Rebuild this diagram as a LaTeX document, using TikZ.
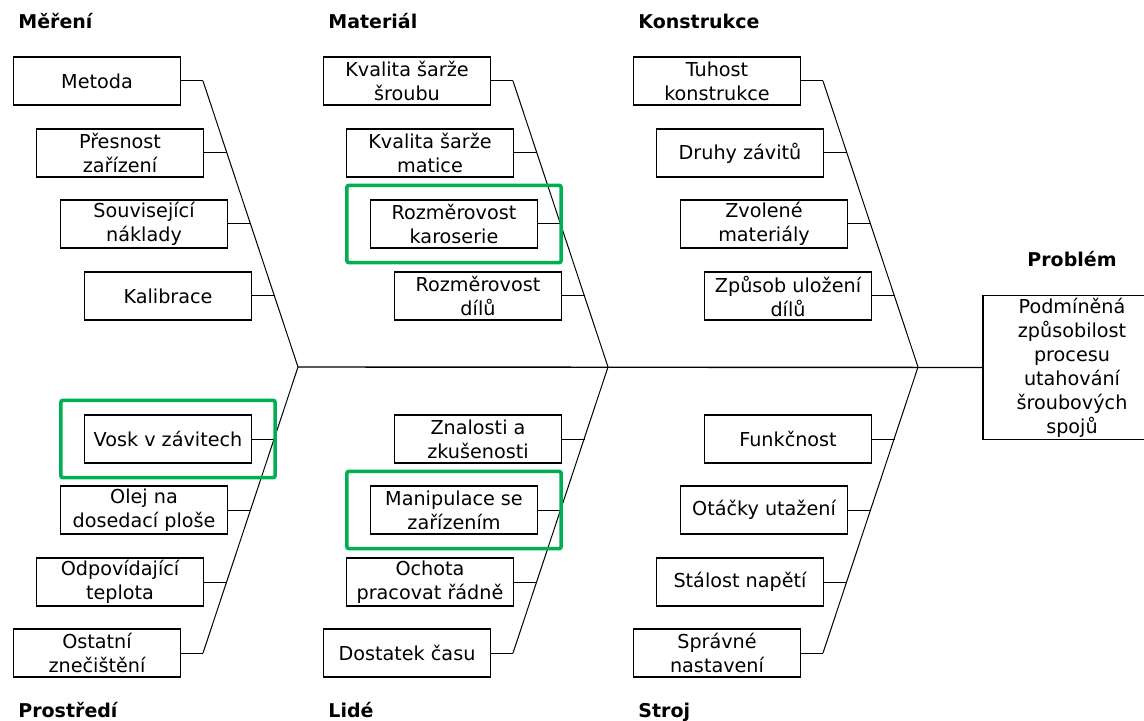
\documentclass[tikz,border=0pt]{standalone}
\usepackage{fontspec}
\setmainfont{DejaVu Sans}
\usetikzlibrary{fit}
\definecolor{hlgreen}{RGB}{0,176,80}

\begin{document}
\begin{tikzpicture}[x=0.5pt, y=-0.5pt,
	cause/.style={draw, line width=0.6pt, minimum width=83.5pt, minimum height=24pt, inner sep=1pt, align=center, font=\fontsize{9.6}{12}\selectfont},
	head/.style={inner sep=0pt, font=\fontsize{9.5}{11}\selectfont\bfseries},
	hl/.style={draw=hlgreen, line width=1.8pt, rounded corners=1pt, inner xsep=11.5pt, inner ysep=7pt},
	bone/.style={line width=0.5pt}]
	\clip (0,0) rectangle (1144,721);
	
	% headings
	\node[head, anchor=base west] (mereni) at (18,29) {Měření};
	\node[head, anchor=base west] (material) at (328,29) {Materiál};
	\node[head, anchor=base west] (konstrukce) at (638,29) {Konstrukce};
	\node[head, anchor=base west] (prostredi) at (18,717) {Prostředí};
	\node[head, anchor=base west] (lide) at (328,717) {Lidé};
	\node[head, anchor=base west] (stroj) at (638,717) {Stroj};
	\node[head, anchor=base] (problemt) at (1072,267) {Problém};
	
	% effect
	\node[cause, minimum width=89pt, minimum height=71.5pt] (problem) at (1072,367.5) {Podmíněná\\způsobilost\\procesu\\utahování\\šroubových\\spojů};
	
	% upper causes
	\node[cause] (metoda) at (97,81) {Metoda};
	\node[cause] (presnost) at (120,153) {Přesnost\\zařízení};
	\node[cause] (naklady) at (144,224) {Související\\náklady};
	\node[cause] (kalibrace) at (168,296) {Kalibrace};
	
	\node[cause] (sroub) at (407,81) {Kvalita šarže\\šroubu};
	\node[cause] (matice) at (430,153) {Kvalita šarže\\matice};
	\node[cause] (karoserie) at (454,224) {Rozměrovost\\karoserie};
	\node[cause] (dily) at (478,296) {Rozměrovost\\dílů};
	
	\node[cause] (tuhost) at (717,81) {Tuhost\\konstrukce};
	\node[cause] (zavity) at (740,153) {Druhy závitů};
	\node[cause] (materialy) at (764,224) {Zvolené\\materiály};
	\node[cause] (ulozeni) at (788,296) {Způsob uložení\\dílů};
	
	% lower causes
	\node[cause] (vosk) at (168,439) {Vosk v závitech};
	\node[cause] (olej) at (144,510) {Olej na\\dosedací ploše};
	\node[cause] (teplota) at (120,582) {Odpovídající\\teplota};
	\node[cause] (znecisteni) at (97,653) {Ostatní\\znečištění};
	
	\node[cause] (znalosti) at (478,439) {Znalosti a\\zkušenosti};
	\node[cause] (manipulace) at (454,510) {Manipulace se\\zařízením};
	\node[cause] (ochota) at (430,582) {Ochota\\pracovat řádně};
	\node[cause] (cas) at (407,653) {Dostatek času};
	
	\node[cause] (funkcnost) at (788,439) {Funkčnost};
	\node[cause] (otacky) at (764,510) {Otáčky utažení};
	\node[cause] (napeti) at (740,582) {Stálost napětí};
	\node[cause] (nastaveni) at (717,653) {Správné\\nastavení};
	
	% bones
	\coordinate (m1) at (203,81);
	\coordinate (m2) at (227,153);
	\coordinate (m3) at (251,224);
	\coordinate (m4) at (275,296);
	\coordinate (mt) at (298,367);
	\coordinate (p1) at (275,439);
	\coordinate (p2) at (251,510);
	\coordinate (p3) at (227,582);
	\coordinate (p4) at (203,653);
	
	\coordinate (a1) at (513,81);
	\coordinate (a2) at (537,153);
	\coordinate (a3) at (561,224);
	\coordinate (a4) at (585,296);
	\coordinate (at) at (608,367);
	\coordinate (l1) at (585,439);
	\coordinate (l2) at (561,510);
	\coordinate (l3) at (537,582);
	\coordinate (l4) at (513,653);
	
	\coordinate (k1) at (823,81);
	\coordinate (k2) at (847,153);
	\coordinate (k3) at (871,224);
	\coordinate (k4) at (895,296);
	\coordinate (kt) at (918,367);
	\coordinate (s1) at (895,439);
	\coordinate (s2) at (871,510);
	\coordinate (s3) at (847,582);
	\coordinate (s4) at (823,653);
	
	\draw[line width=0.7pt] (mt) -- (problem.west);
	\draw[bone] (m1) -- (mt) -- (p4);
	\draw[bone] (a1) -- (at) -- (l4);
	\draw[bone] (k1) -- (kt) -- (s4);
	
	\draw[bone] (metoda.east) -- (m1);
	\draw[bone] (presnost.east) -- (m2);
	\draw[bone] (naklady.east) -- (m3);
	\draw[bone] (kalibrace.east) -- (m4);
	\draw[bone] (vosk.east) -- (p1);
	\draw[bone] (olej.east) -- (p2);
	\draw[bone] (teplota.east) -- (p3);
	\draw[bone] (znecisteni.east) -- (p4);
	
	\draw[bone] (sroub.east) -- (a1);
	\draw[bone] (matice.east) -- (a2);
	\draw[bone] (karoserie.east) -- (a3);
	\draw[bone] (dily.east) -- (a4);
	\draw[bone] (znalosti.east) -- (l1);
	\draw[bone] (manipulace.east) -- (l2);
	\draw[bone] (ochota.east) -- (l3);
	\draw[bone] (cas.east) -- (l4);
	
	\draw[bone] (tuhost.east) -- (k1);
	\draw[bone] (zavity.east) -- (k2);
	\draw[bone] (materialy.east) -- (k3);
	\draw[bone] (ulozeni.east) -- (k4);
	\draw[bone] (funkcnost.east) -- (s1);
	\draw[bone] (otacky.east) -- (s2);
	\draw[bone] (napeti.east) -- (s3);
	\draw[bone] (nastaveni.east) -- (s4);
	
	% highlighted causes
	\node[hl, fit=(karoserie)] (karoseriehl) {};
	\node[hl, fit=(vosk)] (voskhl) {};
	\node[hl, fit=(manipulace)] (manipulacehl) {};
\end{tikzpicture}
\end{document}
